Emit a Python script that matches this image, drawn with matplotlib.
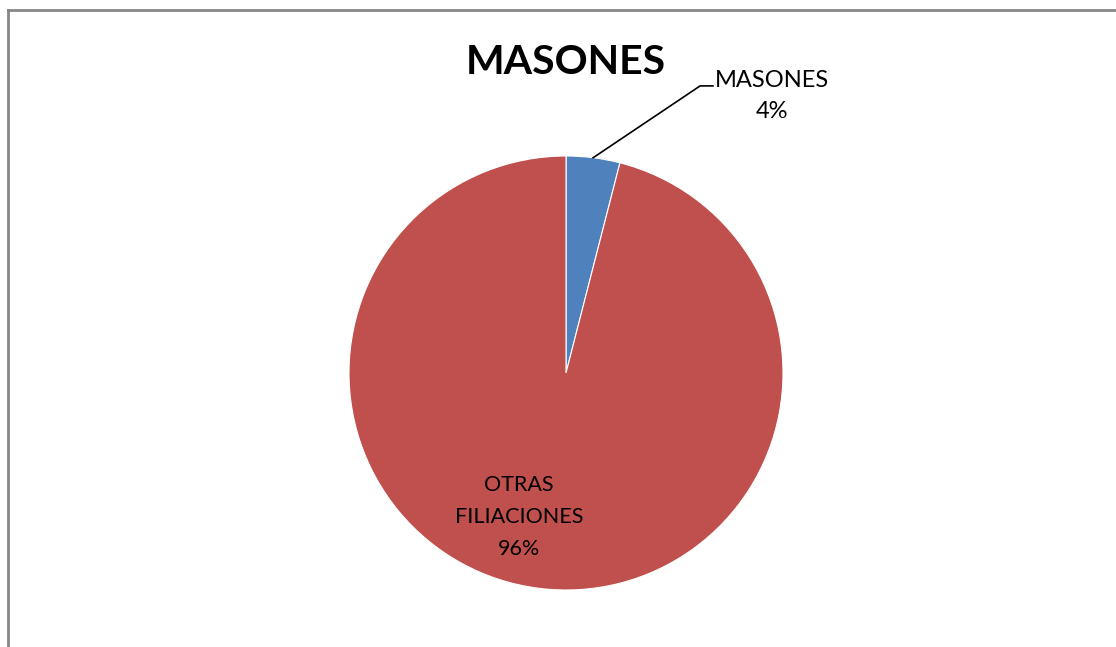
import matplotlib
matplotlib.use('Agg')
import matplotlib.pyplot as plt
from matplotlib.lines import Line2D

categorias = ['MASONES', 'OTRAS\nFILIACIONES']
valores = [4, 96]
colores = ['#4F81BD', '#C0504D']

plt.rcParams['font.family'] = ['Lato', 'DejaVu Sans']

W, H = 1116, 647
fig = plt.figure(figsize=(W / 100, H / 100), dpi=100)

# marco gris del area del grafico (izquierda y arriba)
borde = dict(color='#878787', linewidth=2, transform=fig.transFigure)
fig.lines.append(Line2D([7.5 / W, 7.5 / W], [0, 1 - 9.5 / H], **borde))
fig.lines.append(Line2D([7.5 / W, 1.01], [1 - 9.5 / H, 1 - 9.5 / H], **borde))

# ejes de la torta: centro (566,373), radio 217 px
cx, cy, r = 566, 373, 217
ax = fig.add_axes([(cx - r) / W, (H - cy - r) / H, 2 * r / W, 2 * r / H])

cunas, _ = ax.pie(valores, colors=colores, startangle=90, counterclock=False,
                  wedgeprops=dict(edgecolor='white', linewidth=0.8))
ax.set_xlim(-1, 1)
ax.set_ylim(-1, 1)
ax.set_aspect('equal')
ax.axis('off')
for c in cunas:
    c.set_clip_on(False)

total = sum(valores)
etiquetas = ['%s\n%d%%' % (c, round(v * 100 / total)) for c, v in zip(categorias, valores)]

# etiqueta MASONES con linea guia
ax.plot([0.125, 0.618, 0.677], [0.992, 1.323, 1.323], color='black', lw=1.2, clip_on=False)
ax.text(0.95, 1.275, etiquetas[0], ha='center', va='center', fontsize=17,
        linespacing=1.57, clip_on=False)

# etiqueta OTRAS FILIACIONES dentro
ax.text(-0.217, -0.665, etiquetas[1], ha='center', va='center', fontsize=15.5,
        linespacing=1.76)

fig.text(566 / W, 1 - 62 / H, 'MASONES', ha='center', va='center', fontsize=29.5,
         fontweight='bold')

fig.savefig('out.png', dpi=100)
